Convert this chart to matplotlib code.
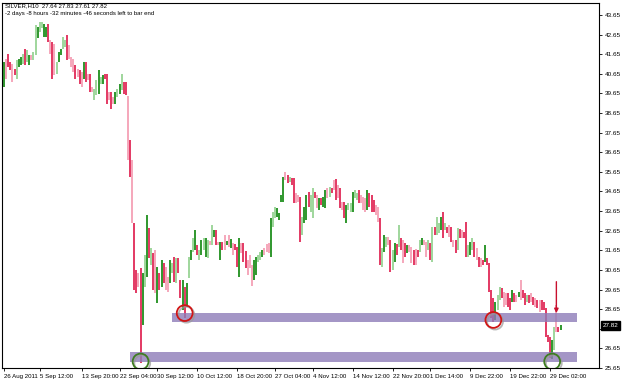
import matplotlib
matplotlib.use("Agg")
import matplotlib.pyplot as plt
import matplotlib.transforms as mtransforms
from matplotlib import patheffects as pe

# ---------------- data ----------------
symbol_header = "SILVER,H10  27.64 27.83 27.61 27.82"
timer_text = "-2 days -8 hours -32 minutes -46 seconds left to bar end"
last_price = 27.82

# bar colour class: G dark green, g light green, R crimson, r pink
kinds = list(
    "GrRRrRgGGgRgGrggGggGGRrRrgGGggRrrrRrRrGRrRrggGgGRRrRrGgGgRRr"
    "RrRRrRGgGRgRrGRGRrrGgRgRRGRGgGgGR"
    "gGgGgrgGRrGRrGrGrRRGrRRrrrGGggGrrrGggGGGGrRgRRrrRgGGRggRrGRGGrgR"
    "rRrRrRGggGggRrrrGRRRrrRgGgrRgGRgRrRGrrRrRgGrrgRgRggGRgRrRrRgRrRRgG"
    "gRrRrRGRRRRGggRrrRRGRrGrRRgRrRrRrRRRRRGgrRG"
)

highs = [
    # Aug - mid Sep
    41.26, 41.43, 41.68, 41.26, 41.17, 40.92, 41.34, 41.43, 41.51, 41.68,
    41.94, 41.85, 41.60, 41.60, 41.77, 43.13, 43.04, 43.30, 43.30, 43.21,
    43.04, 43.21, 42.36, 42.28, 42.19, 41.26, 41.77, 41.94, 42.53, 42.36,
    42.62, 42.11, 41.51, 41.43, 41.09, 40.92, 40.83, 40.75, 41.26, 41.26,
    40.66, 40.66, 39.98, 39.90, 40.32, 40.83, 40.49, 40.58, 40.66, 40.66,
    39.73, 39.73, 39.47, 39.73, 39.90, 40.15, 40.66, 40.24, 40.24, 39.52,
    # crash and base
    37.28, 36.26, 33.05, 30.65, 30.50, 30.75, 30.50, 31.42, 33.46, 32.79,
    31.77, 31.52, 31.67, 30.80, 30.50, 31.16, 31.01, 30.80, 30.29, 31.16,
    31.01, 31.31, 31.26, 31.26, 30.14, 30.14, 29.78, 29.99, 31.31, 31.67,
    32.28, 32.69, 31.92,
    # October rally
    31.67, 32.18, 32.28, 32.28, 32.18, 32.13, 32.94, 32.69, 32.69, 32.08,
    32.08, 32.08, 32.43, 32.13, 32.43, 32.23, 32.03, 31.98, 31.82, 32.28,
    32.03, 32.03, 31.62, 31.16, 31.42, 30.90, 31.16, 31.31, 31.42, 31.57,
    31.67, 31.77, 31.98, 32.03, 33.30, 33.61, 33.86, 33.81, 33.56, 34.47,
    35.39, 35.65, 35.50, 35.39, 35.34, 35.34, 34.58, 34.47, 34.37, 33.35,
    33.86, 34.47, 34.63, 34.47, 34.83, 34.63, 34.47, 34.32, 34.32, 34.37,
    34.73, 34.83, 34.88, 34.83,
    # November
    35.24, 35.29, 34.99, 34.83, 34.12, 34.12, 33.96, 34.07, 34.07, 34.63,
    34.73, 34.58, 34.73, 34.47, 34.37, 34.32, 34.73, 34.58, 34.47, 34.22,
    33.96, 33.86, 33.30, 31.77, 32.43, 32.33, 32.33, 32.18, 31.67, 32.03,
    31.98, 32.94, 32.28, 32.18, 32.03, 31.92, 31.92, 31.82, 31.67, 31.72,
    31.67, 32.18, 32.28, 32.18, 32.08, 32.18, 32.03, 32.84, 32.84, 33.35,
    33.05, 33.35, 33.61, 33.05, 32.84, 32.94, 32.84, 32.18, 32.18, 32.79,
    32.74, 32.69, 32.58, 33.10, 31.92, 32.08,
    # December
    32.28, 32.08, 31.77, 31.31, 31.26, 31.16, 31.92, 31.26, 31.01, 29.63,
    29.22, 29.02, 29.38, 29.78, 29.73, 29.53, 29.48, 29.48, 29.22, 29.63,
    29.48, 29.38, 29.53, 30.14, 29.63, 29.48, 29.38, 29.38, 29.48, 29.27,
    29.22, 29.12, 29.12, 29.12, 29.02, 28.71, 27.34, 27.23, 27.08, 27.74,
    28.87, 27.74, 27.83,
]

lows = [
    39.98, 40.40, 41.00, 40.85, 40.24, 40.58, 40.40, 41.00, 41.09, 41.17,
    41.09, 41.26, 41.09, 41.34, 41.34, 41.60, 42.45, 42.79, 42.96, 42.53,
    42.53, 42.28, 41.68, 40.40, 40.58, 40.66, 41.26, 41.60, 41.94, 42.02,
    41.34, 41.43, 41.00, 40.75, 40.40, 40.49, 40.15, 39.98, 40.40, 40.24,
    40.32, 39.73, 39.73, 39.30, 39.56, 39.64, 40.15, 40.15, 40.40, 39.13,
    39.30, 38.88, 39.13, 39.13, 39.47, 39.64, 39.81, 39.64, 39.56, 36.26,
    35.39, 33.05, 29.63, 29.48, 29.78, 25.91, 27.85, 29.78, 30.29, 31.26,
    30.90, 29.63, 29.48, 28.97, 29.63, 29.78, 29.99, 29.63, 29.53, 29.99,
    30.50, 30.04, 29.99, 30.50, 29.22, 28.61, 28.20, 28.76, 30.24, 31.16,
    31.57, 31.67, 31.42,
    31.16, 31.42, 31.67, 31.31, 31.26, 31.92, 31.92, 32.33, 31.92, 31.92,
    31.16, 31.67, 31.67, 31.92, 31.82, 31.77, 31.42, 31.67, 30.80, 30.29,
    31.52, 31.06, 30.75, 30.39, 30.75, 29.83, 30.14, 30.39, 31.06, 31.16,
    31.31, 31.42, 31.57, 31.52, 31.31, 32.84, 33.30, 33.35, 33.20, 34.12,
    34.12, 35.24, 35.09, 35.14, 34.99, 34.07, 34.07, 34.12, 32.08, 32.43,
    33.05, 33.20, 33.86, 33.61, 33.30, 34.32, 33.81, 33.71, 33.96, 33.86,
    33.81, 34.32, 34.37, 34.58,
    34.73, 34.22, 34.32, 33.81, 33.71, 33.30, 33.05, 33.71, 33.61, 33.61,
    34.32, 34.22, 34.07, 34.07, 33.71, 33.61, 33.71, 33.86, 33.61, 33.61,
    33.45, 33.10, 30.90, 30.80, 31.57, 31.82, 31.92, 30.55, 30.65, 31.06,
    31.42, 31.82, 31.67, 31.01, 31.31, 31.52, 31.57, 31.01, 30.90, 30.90,
    31.31, 31.57, 31.92, 31.92, 31.31, 31.67, 31.16, 31.06, 32.43, 32.43,
    32.54, 32.69, 32.28, 32.69, 32.54, 32.33, 32.08, 31.82, 31.52, 31.67,
    32.28, 32.28, 32.28, 31.31, 31.31, 31.42,
    31.67, 31.31, 31.16, 30.80, 30.80, 30.90, 31.06, 30.90, 29.53, 28.20,
    28.00, 28.10, 28.61, 29.12, 29.22, 28.76, 28.87, 28.76, 28.61, 29.02,
    29.02, 29.02, 29.27, 29.12, 29.22, 28.87, 29.02, 28.97, 29.02, 28.87,
    28.76, 28.71, 28.51, 28.61, 28.61, 27.23, 26.98, 26.16, 26.11, 26.57,
    27.49, 27.49, 27.61,
]

x_tick_labels = ["26 Aug 2011", "5 Sep 12:00", "13 Sep 20:00", "22 Sep 04:00",
                 "30 Sep 12:00", "10 Oct 12:00", "18 Oct 20:00", "27 Oct 04:00",
                 "4 Nov 12:00", "14 Nov 12:00", "22 Nov 20:00", "1 Dec 14:00",
                 "9 Dec 22:00", "19 Dec 22:00", "29 Dec 02:00"]
x_tick_bars = [0, 17, 37, 55, 73, 92, 111, 129, 147, 166, 185, 203, 222, 241, 260]

y_tick_values = [25.65, 26.65, 27.65, 28.65, 29.65, 30.65, 31.65, 32.65, 33.65,
                 34.65, 35.65, 36.65, 37.65, 38.65, 39.65, 40.65, 41.65, 42.65, 43.65]

support_zones = [(25.96, 26.47), (27.99, 28.46)]
support_start_bars = [60, 80]
support_end_bar = 273
circled_bars = [65, 86, 233, 261]
circled_prices = [25.98, 28.45, 28.10, 25.98]
circle_colors = ["#3f7d22", "#d01515", "#d01515", "#3f7d22"]
arrow_bar = 263
arrow_from, arrow_to = 30.05, 28.45

color_map = {"G": "#1f8f1c", "g": "#97d394", "R": "#e02a57", "r": "#f5a0b5"}

# ---------------- figure ----------------
W, H = 625, 383
fig = plt.figure(figsize=(W / 100, H / 100), dpi=100)
fig.patch.set_facecolor("white")
ax = fig.add_axes([2 / W, 15 / H, 597 / W, 365 / H])
ax.set_facecolor("white")

idx = list(range(len(highs)))
ax.vlines(idx, lows, highs, colors=[color_map[k] for k in kinds],
          linewidth=1.3, zorder=2)

# support zones
for (lo, hi), start in zip(support_zones, support_start_bars):
    ax.fill_between([start, support_end_bar], lo, hi, color="#8e7cb8",
                    alpha=0.8, linewidth=0, zorder=3)

# circles
shadow = [pe.SimpleLineShadow(offset=(1.2, -1.2), shadow_color="#999999", alpha=0.7),
          pe.Normal()]
for b, p, c in zip(circled_bars, circled_prices, circle_colors):
    ax.scatter([b], [p], s=130, facecolors="none", edgecolors=c,
               linewidths=1.3, zorder=5, path_effects=shadow)

# arrow
ax.annotate("", xy=(arrow_bar, arrow_to), xytext=(arrow_bar, arrow_from),
            arrowprops=dict(arrowstyle="-|>", color="#c8102e", lw=1.0,
                            mutation_scale=6, shrinkA=0, shrinkB=0), zorder=6)

ax.set_xlim(-1, 283.3)
ax.set_ylim(25.65, 44.26)

for s in ax.spines.values():
    s.set_color("black")
    s.set_linewidth(0.8)

ax.yaxis.tick_right()
ax.set_yticks(y_tick_values)
ax.set_yticklabels([f"{v:.2f}" for v in y_tick_values], fontsize=4.6,
                   family="Liberation Sans")
ax.tick_params(axis="y", length=2.5, width=0.6, pad=1.5, colors="black")

ax.set_xticks(x_tick_bars)
ax.set_xticklabels(x_tick_labels, fontsize=4.4, family="Liberation Sans", ha="left")
ax.tick_params(axis="x", length=2.5, width=0.6, pad=1.5, colors="black")

# last price label
trans = mtransforms.blended_transform_factory(ax.transAxes, ax.transData)
ax.text(1.006, last_price, f"{last_price:.2f}", transform=trans, ha="left",
        va="center", fontsize=4.6, family="Liberation Sans", color="white",
        bbox=dict(boxstyle="square,pad=0.25", facecolor="black", edgecolor="black"),
        zorder=10, clip_on=False)

# header texts
fig.text(5 / W, 1 - 6 / H, symbol_header, fontsize=4.3, family="Liberation Sans",
         va="center", ha="left")
fig.text(5 / W, 1 - 14 / H, timer_text, fontsize=4.3, family="Liberation Sans",
         va="center", ha="left")

fig.savefig("out.png", dpi=100, facecolor="white")
